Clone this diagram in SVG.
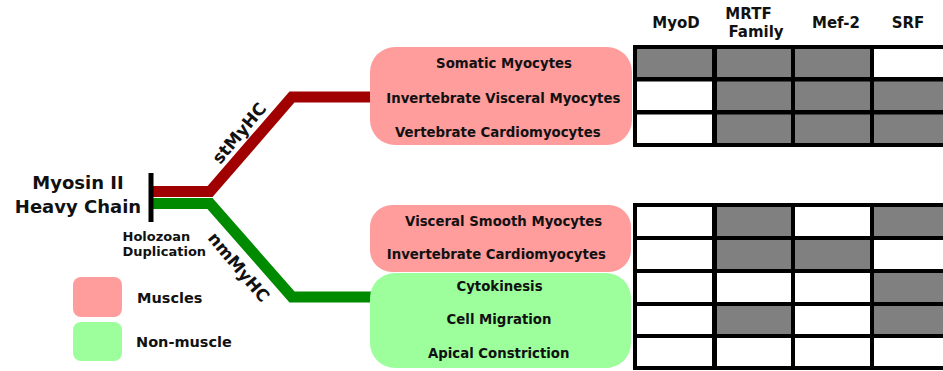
<svg xmlns="http://www.w3.org/2000/svg" width="943" height="371" viewBox="0 0 943 371">
<style>
text{font-family:"DejaVu Sans","Liberation Sans",sans-serif;font-weight:bold;fill:#111}
.t13{font-size:13.3px;text-anchor:middle}
.hdr{font-size:15px;text-anchor:middle}
.title{font-size:18px;text-anchor:middle}
.small{font-size:13px}
.leg{font-size:14.5px}
.branch{font-size:17px;text-anchor:middle}
.pink{fill:#ff9c9c}
.green{fill:#9cff9c}
.g{fill:#808080}
.w{fill:#ffffff}
.grid{fill:#000}
</style>
<rect width="943" height="371" fill="#fff"/>
<g id="connectors" fill="none" stroke-width="11" stroke-linejoin="miter">
<polyline points="150,191.5 210,191.5 292,97 372,97" stroke="#a00000"/>
<polyline points="150,203.5 210,203.5 292,297 372,297" stroke="#008a00"/>
<line x1="151" y1="173" x2="151" y2="222" stroke="#000" stroke-width="5"/>
</g>
<g id="branch-labels">
<text class="branch" transform="translate(239,133) rotate(-50)" y="6.2">stMyHC</text>
<text class="branch" transform="translate(239,267) rotate(50)" y="6.2">nmMyHC</text>
</g>
<g id="root">
<text class="title" x="78" y="188.5">Myosin II</text>
<text class="title" x="78" y="212.5">Heavy Chain</text>
<text class="small" x="122.5" y="241">Holozoan</text>
<text class="small" x="122.5" y="256">Duplication</text>
</g>
<g id="box-st-muscle">
<rect class="pink" x="370" y="47" width="262" height="98" rx="25"/>
<text class="t13" x="504" y="68">Somatic Myocytes</text>
<text class="t13" x="503.3" y="103">Invertebrate Visceral Myocytes</text>
<text class="t13" x="497.8" y="137">Vertebrate Cardiomyocytes</text>
</g>
<g id="box-nm-muscle">
<rect class="pink" x="370" y="205" width="261" height="67" rx="22"/>
<text class="t13" x="503.7" y="226">Visceral Smooth Myocytes</text>
<text class="t13" x="496.3" y="259.3">Invertebrate Cardiomyocytes</text>
</g>
<g id="box-nm-nonmuscle">
<rect class="green" x="370" y="273" width="261" height="95" rx="25"/>
<text class="t13" x="499.5" y="291">Cytokinesis</text>
<text class="t13" x="499" y="324.3">Cell Migration</text>
<text class="t13" x="498.7" y="358.3">Apical Constriction</text>
</g>
<g id="headers">
<text class="hdr" x="676" y="28">MyoD</text>
<text class="hdr" x="748.5" y="18.5">MRTF</text>
<text class="hdr" x="756" y="37">Family</text>
<text class="hdr" x="836" y="28">Mef-2</text>
<text class="hdr" x="908" y="28">SRF</text>
</g>
<g id="table-top">
<rect class="grid" x="633" y="45" width="320" height="102"/>
<rect class="g" x="637" y="49" width="75" height="28"/>
<rect class="g" x="717" y="49" width="74" height="28"/>
<rect class="g" x="795" y="49" width="75" height="28"/>
<rect class="w" x="874" y="49" width="80" height="28"/>
<rect class="w" x="637" y="81.5" width="75" height="28.5"/>
<rect class="g" x="717" y="81.5" width="74" height="28.5"/>
<rect class="g" x="795" y="81.5" width="75" height="28.5"/>
<rect class="g" x="874" y="81.5" width="80" height="28.5"/>
<rect class="w" x="637" y="114.5" width="75" height="28.5"/>
<rect class="g" x="717" y="114.5" width="74" height="28.5"/>
<rect class="g" x="795" y="114.5" width="75" height="28.5"/>
<rect class="g" x="874" y="114.5" width="80" height="28.5"/>
</g>
<g id="table-bottom">
<rect class="grid" x="633" y="203" width="320" height="167"/>
<rect class="w" x="637" y="207" width="75" height="29"/>
<rect class="g" x="717" y="207" width="74" height="29"/>
<rect class="w" x="795" y="207" width="75" height="29"/>
<rect class="g" x="874" y="207" width="80" height="29"/>
<rect class="w" x="637" y="240" width="75" height="29"/>
<rect class="g" x="717" y="240" width="74" height="29"/>
<rect class="g" x="795" y="240" width="75" height="29"/>
<rect class="w" x="874" y="240" width="80" height="29"/>
<rect class="w" x="637" y="273" width="75" height="29"/>
<rect class="w" x="717" y="273" width="74" height="29"/>
<rect class="w" x="795" y="273" width="75" height="29"/>
<rect class="g" x="874" y="273" width="80" height="29"/>
<rect class="w" x="637" y="306" width="75" height="28"/>
<rect class="g" x="717" y="306" width="74" height="28"/>
<rect class="w" x="795" y="306" width="75" height="28"/>
<rect class="g" x="874" y="306" width="80" height="28"/>
<rect class="w" x="637" y="338" width="75" height="28"/>
<rect class="w" x="717" y="338" width="74" height="28"/>
<rect class="w" x="795" y="338" width="75" height="28"/>
<rect class="w" x="874" y="338" width="80" height="28"/>
</g>
<g id="legend">
<rect class="pink" x="73" y="277" width="49" height="40" rx="8"/>
<text class="leg" x="137" y="303.3">Muscles</text>
<rect class="green" x="73" y="322" width="49" height="39" rx="8"/>
<text class="leg" x="136" y="347.3">Non-muscle</text>
</g>
</svg>
